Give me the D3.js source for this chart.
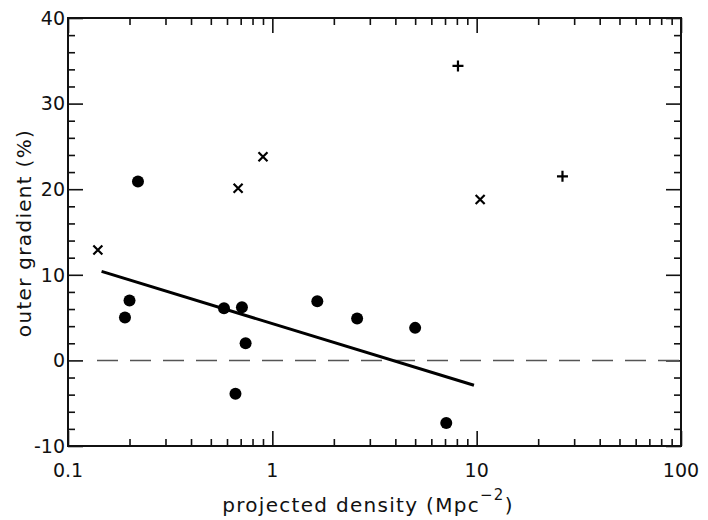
<!DOCTYPE html>
<html>
<head>
<meta charset="utf-8">
<script src="https://cdn.jsdelivr.net/npm/d3@7"></script>
<style>
  body { margin: 0; background: #fff; }
  text { font-family: "DejaVu Sans", sans-serif; fill: #111; }
</style>
</head>
<body>
<script>
const w = 708
const h = 520
const padLeft = 68, padRight = 681, padTop = 18, padBottom = 446

// filled circles
const dotX = [0.22, 0.20, 0.19, 0.58, 0.71, 0.74, 0.66, 1.66, 2.6, 5.0, 7.1]
const dotY = [20.9, 7.0, 5.0, 6.1, 6.2, 2.0, -3.9, 6.9, 4.9, 3.8, -7.3]
// crosses (x)
const crossX = [0.14, 0.68, 0.90, 10.4]
const crossY = [12.9, 20.1, 23.8, 18.8]
// plus signs
const plusX = [8.1, 26.3]
const plusY = [34.4, 21.5]
// fitted line end points
const fitX = [0.146, 9.7]
const fitY = [10.4, -2.9]

const xTickLabels = ["0.1", "1", "10", "100"]
const yTickLabels = [40, 30, 20, 10, 0, -10]

const svg = d3.select("body").append("svg")
	.attr("width", w)
	.attr("height", h)

let xScale = d3.scaleLog().domain([0.1, 100]).range([padLeft, padRight])
let yScale = d3.scaleLinear().domain([-10, 40]).range([padBottom, padTop])

// minor / major tick values
let xMinor = []
for (let d of [0.1, 1, 10]) for (let k = 2; k <= 9; k++) xMinor.push(d * k)
let xMajor = [0.1, 1, 10, 100]
let yMinor = d3.range(-8, 40, 2).filter(v => v % 10 != 0)
let yMajor = yTickLabels

function axisLines(g, axis, major, minor) {
	g.call(axis.tickValues(major.concat(minor)).tickFormat(""))
	g.select(".domain").remove()
	g.selectAll(".tick line")
		.attr("stroke", "#111")
		.attr("stroke-width", 1.6)
}

let bigT = 15, smallT = 7
let isMajorX = d => xMajor.some(m => Math.abs(m - d) < 1e-9)

// bottom axis, ticks pointing up
svg.append("g").attr("transform", "translate(0," + padBottom + ")")
	.call(g => axisLines(g, d3.axisTop(xScale), xMajor, xMinor))
	.selectAll(".tick line").attr("y2", d => isMajorX(d) ? -bigT : -smallT)
// top axis, ticks pointing down
svg.append("g").attr("transform", "translate(0," + padTop + ")")
	.call(g => axisLines(g, d3.axisBottom(xScale), xMajor, xMinor))
	.selectAll(".tick line").attr("y2", d => isMajorX(d) ? bigT : smallT)
// left axis
svg.append("g").attr("transform", "translate(" + padLeft + ",0)")
	.call(g => axisLines(g, d3.axisRight(yScale), yMajor, yMinor))
	.selectAll(".tick line").attr("x2", d => yMajor.includes(d) ? bigT : smallT)
// right axis
svg.append("g").attr("transform", "translate(" + padRight + ",0)")
	.call(g => axisLines(g, d3.axisLeft(yScale), yMajor, yMinor))
	.selectAll(".tick line").attr("x2", d => yMajor.includes(d) ? -bigT : -smallT)

// frame
svg.append("rect")
	.attr("x", padLeft).attr("y", padTop)
	.attr("width", padRight - padLeft).attr("height", padBottom - padTop)
	.attr("fill", "none").attr("stroke", "#111").attr("stroke-width", 2)

// tick labels
svg.selectAll(".ylab").data(yTickLabels).enter().append("text")
	.attr("class", "ylab")
	.attr("x", padLeft - 3)
	.attr("y", d => yScale(d))
	.attr("dy", "0.36em")
	.attr("text-anchor", "end")
	.attr("font-size", 19)
	.text(d => d)

svg.selectAll(".xlab").data(xTickLabels).enter().append("text")
	.attr("class", "xlab")
	.attr("x", d => xScale(+d))
	.attr("y", 477)
	.attr("text-anchor", "middle")
	.attr("font-size", 19)
	.text(d => d)

// axis titles
let xt = svg.append("text")
	.attr("x", 368)
	.attr("y", 512)
	.attr("text-anchor", "middle")
	.attr("font-size", 20)
	.attr("letter-spacing", 1.3)
xt.append("tspan").text("projected density (Mpc")
xt.append("tspan").attr("dy", -12).attr("font-size", 15).text("\u22122")
xt.append("tspan").attr("dy", 12).text(")")

svg.append("text")
	.attr("transform", "translate(31,233) rotate(-90)")
	.attr("text-anchor", "middle")
	.attr("font-size", 20)
	.attr("letter-spacing", 1.3)
	.text("outer gradient (%)")

// zero line
svg.append("line")
	.attr("x1", 97).attr("x2", padRight)
	.attr("y1", yScale(0)).attr("y2", yScale(0))
	.attr("stroke", "#555")
	.attr("stroke-width", 1.5)
	.attr("stroke-dasharray", "21 12")

// fit line
svg.append("line")
	.attr("x1", xScale(fitX[0])).attr("y1", yScale(fitY[0]))
	.attr("x2", xScale(fitX[1])).attr("y2", yScale(fitY[1]))
	.attr("stroke", "#000")
	.attr("stroke-width", 3)

// points
svg.selectAll("circle").data(dotX).enter().append("circle")
	.attr("cx", d => xScale(d))
	.attr("cy", (d, i) => yScale(dotY[i]))
	.attr("r", 6)
	.attr("fill", "#000")

let c = 4.5
svg.selectAll(".cross").data(crossX).enter().append("path")
	.attr("class", "cross")
	.attr("d", (d, i) => {
		let x = xScale(d), y = yScale(crossY[i])
		return `M${x-c},${y-c}L${x+c},${y+c}M${x-c},${y+c}L${x+c},${y-c}`
	})
	.attr("stroke", "#000").attr("stroke-width", 2.2)

let p = 5.5
svg.selectAll(".plus").data(plusX).enter().append("path")
	.attr("class", "plus")
	.attr("d", (d, i) => {
		let x = xScale(d), y = yScale(plusY[i])
		return `M${x-p},${y}L${x+p},${y}M${x},${y-p}L${x},${y+p}`
	})
	.attr("stroke", "#000").attr("stroke-width", 2.2)
</script>
</body>
</html>
